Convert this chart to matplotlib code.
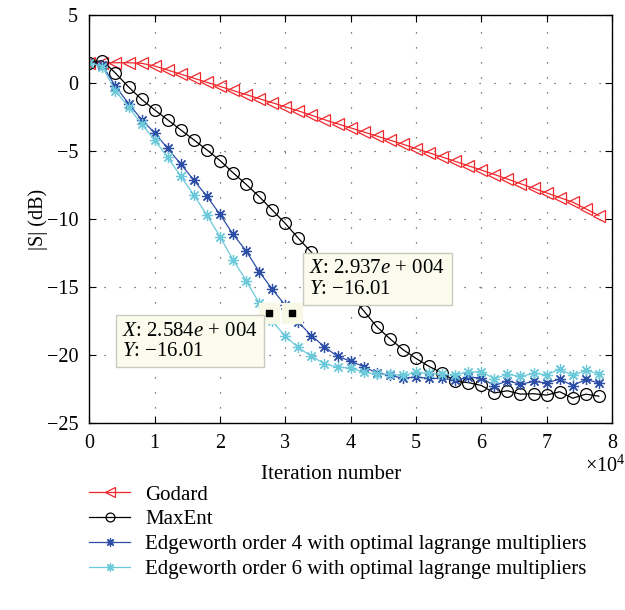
import matplotlib
matplotlib.use("Agg")
import matplotlib.pyplot as plt
import numpy as np

plt.rcParams['font.family'] = ['Liberation Serif', 'DejaVu Serif']
plt.rcParams['mathtext.fontset'] = 'custom'
plt.rcParams['mathtext.rm'] = 'Liberation Serif'
plt.rcParams['mathtext.it'] = 'Liberation Serif:italic'

# iteration number of every sample
iterations = np.arange(0, 80000, 2000)

godard = [1.5, 1.5, 1.49, 1.49, 1.45, 1.25, 0.95, 0.65, 0.35, 0.05,
          -0.25, -0.55, -0.85, -1.15, -1.45, -1.75, -2.05, -2.37, -2.7, -3.0,
          -3.3, -3.6, -3.9, -4.2, -4.5, -4.82, -5.13, -5.44, -5.76, -6.08,
          -6.4, -6.73, -7.06, -7.4, -7.74, -8.08, -8.42, -8.76, -9.25, -9.75]

maxent = [1.5, 1.65, 0.73, -0.29, -1.2, -1.98, -2.71, -3.45, -4.18, -4.92,
          -5.7, -6.6, -7.45, -8.35, -9.34, -10.33, -11.42, -12.45, -13.5, -14.6,
          -15.65, -16.75, -17.92, -18.8, -19.6, -20.25, -20.84, -21.32, -21.94, -22.03,
          -22.24, -22.79, -22.63, -22.88, -22.85, -22.95, -22.7, -23.18, -22.88, -23.03]

edge4 = [1.5, 1.3, -0.24, -1.51, -2.69, -3.67, -4.81, -5.96, -7.15, -8.33,
         -9.66, -11.12, -12.35, -13.87, -15.16, -16.35, -17.6, -18.57, -19.41, -20.1,
         -20.45, -20.86, -21.32, -21.5, -21.7, -21.62, -21.72, -21.72, -21.85, -21.65,
         -21.68, -22.26, -21.9, -22.15, -21.95, -22.05, -21.78, -22.25, -21.8, -22.05]

edge6 = [1.5, 1.2, -0.59, -1.76, -3.03, -4.2, -5.47, -6.85, -8.24, -9.71,
         -11.3, -13.0, -14.53, -16.18, -17.5, -18.63, -19.45, -20.1, -20.64, -20.91,
         -20.95, -21.28, -21.4, -21.42, -21.5, -21.28, -21.36, -21.42, -21.45, -21.26,
         -21.22, -21.75, -21.42, -21.58, -21.35, -21.45, -21.05, -21.5, -21.14, -21.37]

labels = ["Godard", "MaxEnt",
          "Edgeworth order 4 with optimal lagrange multipliers",
          "Edgeworth order 6 with optimal lagrange multipliers"]

# data tips (marker position and the text they show)
tip_x = [27540, 31060]
tip_y = [-16.92, -16.92]
tip_text = ["$X$: 2.584$e$ + 004\n$Y$: \u221216.01",
            "$X$: 2.937$e$ + 004\n$Y$: \u221216.01"]
tip_text_pos = [(5000, -17.55), (33700, -12.95)]

FS = 14.5

fig = plt.figure(figsize=(6.25, 6.1), dpi=100)
ax = fig.add_axes([0.1429, 0.3066, 0.8362, 0.6688])

ax.plot(iterations, godard, color='#f0282d', lw=0.9, marker='<', ms=9,
        mfc='none', mec='#f0282d', mew=0.9, label=labels[0])
ax.plot(iterations, maxent, color='black', lw=0.9, marker='o', ms=8.5,
        mfc='none', mec='black', mew=0.9, label=labels[1])
ax.plot(iterations, edge4, color='#2d4ea6', lw=0.9, marker=(8, 2, 0), ms=8,
        mew=0.9, label=labels[2])
ax.plot(iterations, edge6, color='#6cc9da', lw=0.9, marker=(8, 2, 0), ms=8,
        mew=0.9, label=labels[3])

# data tip markers
ax.scatter(tip_x, tip_y, marker='s', s=190, color='#f8f8e6', zorder=5)
ax.scatter(tip_x, tip_y, marker='s', s=22, color='black', zorder=6)

for (tx, ty), txt in zip(tip_text_pos, tip_text):
    ax.text(tx, ty, txt, fontsize=FS + 0.5, ha='left', va='top', linespacing=1.1,
            zorder=7,
            bbox=dict(boxstyle='square,pad=0.3', fc='#fbfbee', ec='#c9c9bf', lw=1))

ax.set_xlim(0, 80000)
ax.set_ylim(-25, 5)
ax.set_xticks(np.arange(0, 80001, 10000))
ax.set_xticklabels([str(i) for i in range(9)])
ax.set_yticks(np.arange(-25, 6, 5))
ax.set_yticklabels([f"{v}".replace('-', '\u2212') for v in range(-25, 6, 5)])
ax.tick_params(direction='in', length=5, width=0.8, top=True, right=True,
               labelsize=FS, pad=8)
ax.grid(True, color='#555555', linestyle=(0, (1, 11)), linewidth=0.9)
for s in ax.spines.values():
    s.set_linewidth(1.0)

ax.set_xlabel("Iteration number", fontsize=FS + 0.5)
ax.xaxis.set_label_coords(0.463, -0.127)
ax.xaxis.label.set_va('center')
ax.set_ylabel("|S| (dB)", fontsize=FS)
ax.yaxis.set_label_coords(-0.097, 0.5)
ax.yaxis.label.set_va('center')
fig.text(0.936, 0.235, r"$\times10^{4}$", fontsize=FS, ha='left', va='center')

fig.legend(loc='upper left', bbox_to_anchor=(0.142, 0.205), frameon=False,
           fontsize=FS + 0.5, handlelength=2.0, handletextpad=0.7, labelspacing=0.25,
           borderpad=0, borderaxespad=0, markerscale=0.75)

fig.savefig("out.png", dpi=100)
